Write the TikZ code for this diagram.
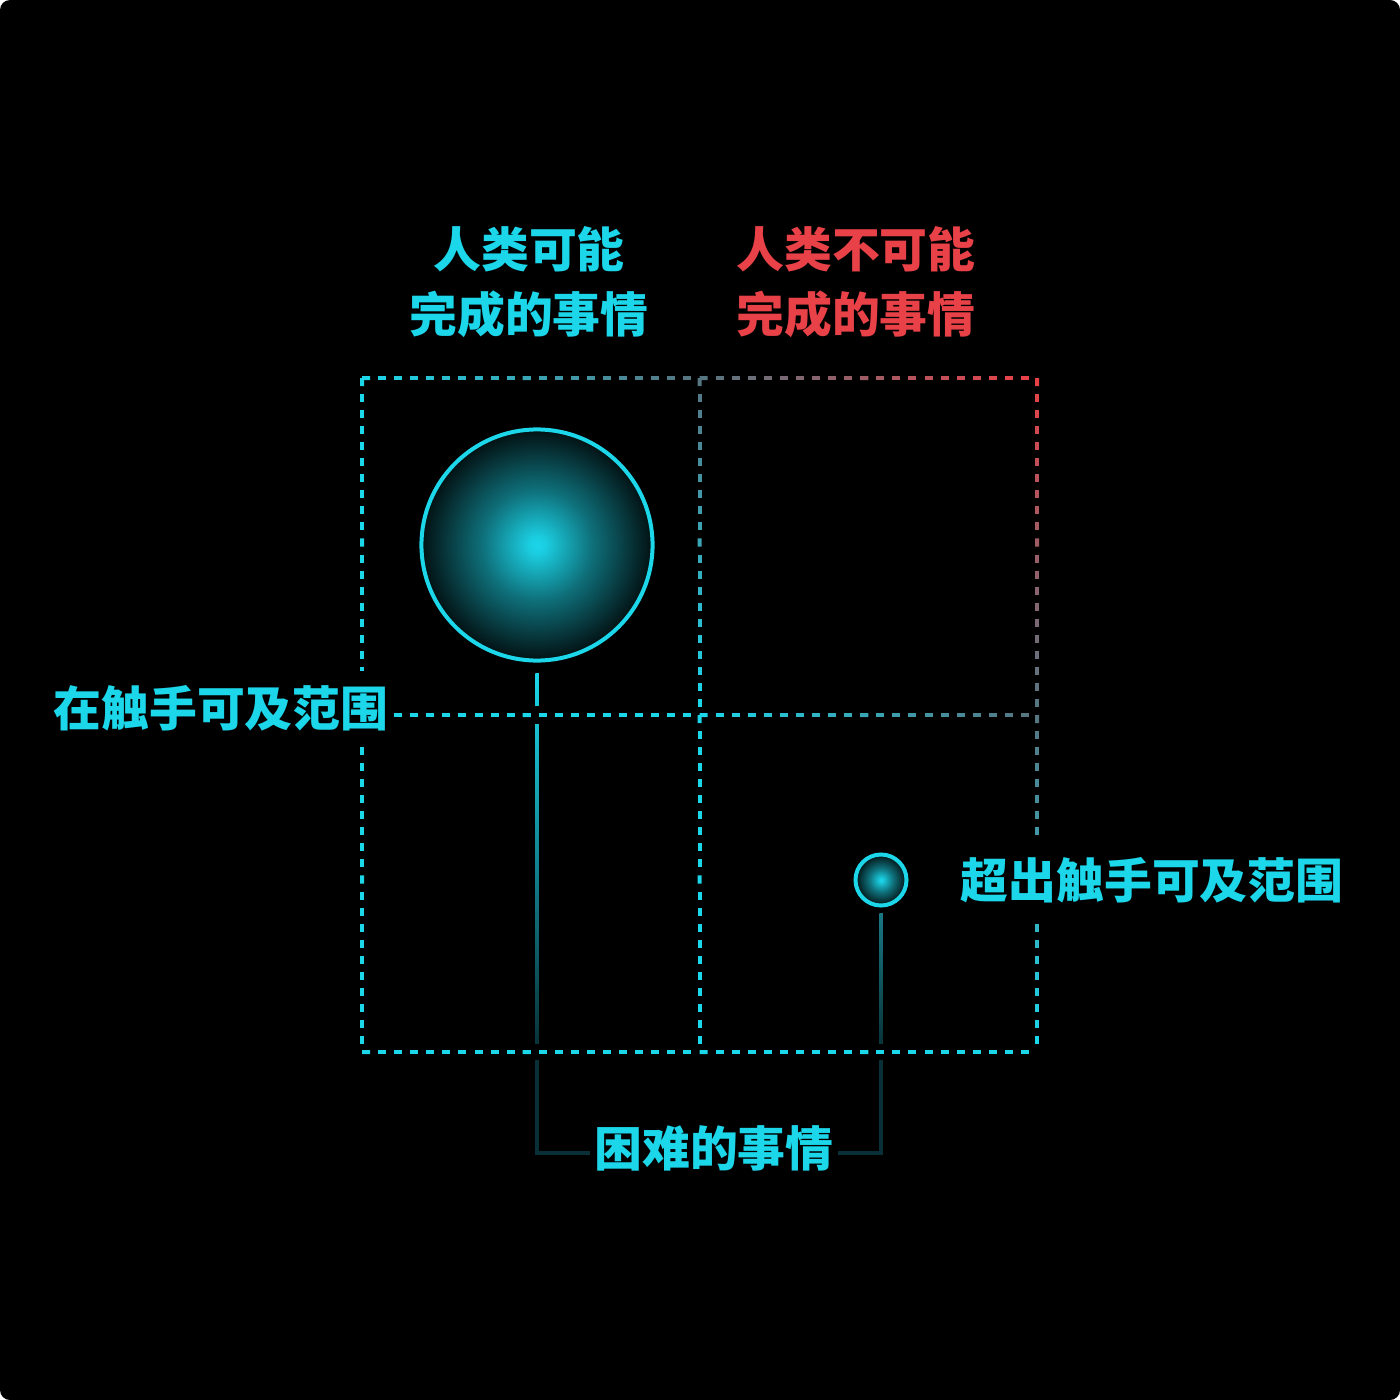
\documentclass[tikz,border=0pt]{standalone}
\usepackage{fontspec}
\newfontfamily\cjk{Noto Sans CJK SC}
\usetikzlibrary{calc}

\definecolor{cyanA}{RGB}{28,214,234}
\definecolor{redA}{RGB}{232,66,72}
\definecolor{midG}{RGB}{86,118,130}
\definecolor{tealB}{RGB}{24,120,132}
\definecolor{linkdark}{RGB}{8,48,54}
\pgfdeclareradialshading{glow}{\pgfpointorigin}{color(0bp)=(cyanA); color(2bp)=(cyanA!95!black); color(12bp)=(cyanA!52!black); color(22bp)=(cyanA!18!black); color(25bp)=(cyanA!8!black); color(50bp)=(black)}

% one half of a grid line, dashes fading from colour #3 to colour #4
\newcommand{\dashrun}[4]{%
  \foreach \k in {0,...,20}{
    \pgfmathsetmacro\pc{100*\k/20}
    \colorlet{dashcol}{#4!\pc!#3}
    \draw[dashcol,gridline]($#1!{\k/21}!#2$)--($#1!{(\k+0.5)/21}!#2$);
  }}

\begin{document}
\begin{tikzpicture}[x=0.01cm,y=-0.01cm,
    gridline/.style={line width=0.04cm,line cap=butt},
    ball/.style={circle,draw=cyanA,line width=0.04cm,shade,shading=glow,inner sep=0},
    lbl/.style={font=\cjk\bfseries\fontsize{13.6pt}{18.4pt}\selectfont,align=center,fill=black,inner xsep=0.04cm,inner ysep=0.14cm},
    link/.style={draw=linkdark,line width=0.035cm}]

    \useasboundingbox(0,0)rectangle(1400,1400);
    \fill[black,rounded corners=0.1cm](0,0)rectangle(1400,1400);

    \coordinate(tl)at(362,378);
    \coordinate(tm)at(699.5,378);
    \coordinate(tr)at(1037,378);
    \coordinate(ml)at(362,715);
    \coordinate(mm)at(699.5,715);
    \coordinate(mr)at(1037,715);
    \coordinate(bl)at(362,1052);
    \coordinate(bm)at(699.5,1052);
    \coordinate(br)at(1037,1052);

    \node[lbl,text=cyanA](can)at(529,282){人类可能\\完成的事情};
    \node[lbl,text=redA](cannot)at(856,282){人类不可能\\完成的事情};

    \node[ball,minimum size=2.31cm](big)at(537,545){};
    \node[ball,minimum size=0.51cm](small)at(881,880){};
    \node[lbl,text=cyanA](hard)at(714,1148){困难的事情};

    % links from the two balls to the bottom label
    \coordinate(bigfoot)at(big.south|-bl);
    \coordinate(smallfoot)at(small.south|-bl);
    \draw[link]([yshift=-0.11cm]big.south)|-([yshift=-0.05cm]hard.west);
    \draw[link]([yshift=-0.06cm]small.south)|-([yshift=-0.05cm]hard.east);
    \shade[top color=cyanA,bottom color=linkdark]([xshift=-0.0175cm,yshift=-0.11cm]big.south)rectangle([xshift=0.0175cm]bigfoot);
    \shade[top color=tealB,bottom color=linkdark]([xshift=-0.0175cm,yshift=-0.06cm]small.south)rectangle([xshift=0.0175cm]smallfoot);
    \draw[black,line width=0.18cm](ml)--(mr);
    \draw[black,line width=0.16cm](bl)--(br);

    % the grid
    \dashrun{(tl)}{(tm)}{cyanA}{midG}
    \dashrun{(tm)}{(tr)}{midG}{redA}
    \dashrun{(tl)}{(ml)}{cyanA}{cyanA}
    \dashrun{(ml)}{(bl)}{cyanA}{cyanA}
    \dashrun{(bl)}{(bm)}{cyanA}{cyanA}
    \dashrun{(bm)}{(br)}{cyanA}{cyanA}
    \dashrun{(tr)}{(mr)}{redA}{midG}
    \dashrun{(mr)}{(br)}{midG}{cyanA}
    \dashrun{(tm)}{(mm)}{midG}{cyanA}
    \dashrun{(mm)}{(bm)}{cyanA}{cyanA}
    \dashrun{(ml)}{(mm)}{cyanA}{cyanA}
    \dashrun{(mm)}{(mr)}{cyanA}{midG}

    \node[lbl,text=cyanA](near)at(221,708){在触手可及范围};
    \node[lbl,text=cyanA](far)at(1152,880){超出触手可及范围};

\end{tikzpicture}
\end{document}
